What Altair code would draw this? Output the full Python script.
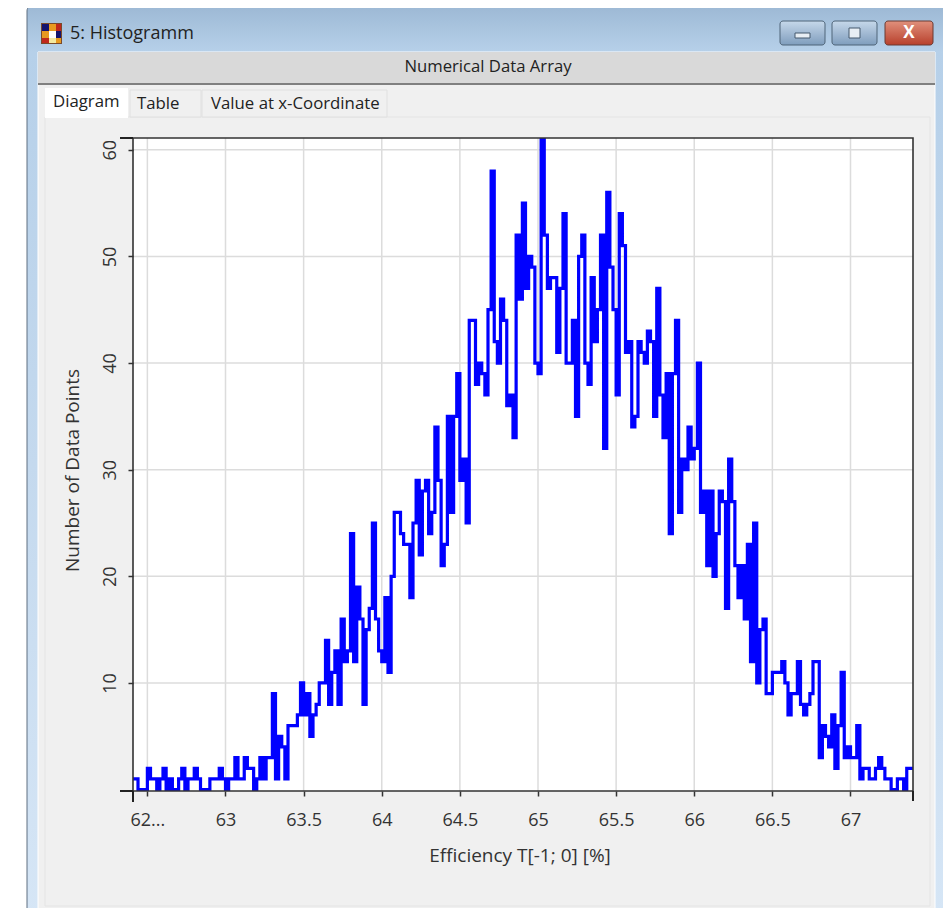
import altair as alt

# Histogram counts per 0.02 wide bin
counts = [
    1,1,0,0,0,2,1,1,0,1,
    2,0,1,0,0,1,2,0,1,1,
    2,1,0,0,0,1,1,1,2,1,
    0,1,1,3,1,1,3,2,2,0,
    1,3,1,3,3,9,1,5,4,1,
    6,6,6,7,10,7,9,5,7,8,
    10,10,14,8,11,13,8,16,12,13,
    24,12,19,16,8,15,17,25,16,13,
    12,18,11,20,26,26,24,23,23,18,
    25,29,22,28,29,24,26,34,29,21,
    23,35,26,35,39,29,31,25,44,44,
    38,40,39,37,45,58,42,40,46,44,
    36,37,33,52,46,55,47,50,49,40,
    39,61,52,47,48,48,41,47,54,40,
    40,44,35,50,52,40,38,48,42,45,
    52,32,56,49,45,37,54,51,41,42,
    34,35,42,41,40,43,42,35,47,37,
    33,39,24,39,44,26,31,30,34,31,
    32,40,26,28,21,28,20,24,28,27,
    17,31,27,21,18,21,16,23,12,25,
    10,15,16,9,9,11,11,11,12,10,
    7,9,9,12,8,7,8,9,12,12,
    3,6,5,4,7,2,6,11,3,4,
    3,3,6,1,2,2,1,1,2,3,
    2,1,1,0,0,1,1,0,2,2,
]
bin_start = 62.40
bin_width = 0.02
x_ticks = [62.5, 63, 63.5, 64, 64.5, 65, 65.5, 66, 66.5, 67]
y_ticks = [10, 20, 30, 40, 50, 60]
x_domain = [62.408, 67.40]
y_domain = [-0.13, 61.1]

PW, PH = 780, 653
OX, OY = 133, 138
FONT = "Open Sans"
edges = [round(bin_start + bin_width * i, 2) for i in range(len(counts) + 1)]
hist = [{"x": e, "y": c} for e, c in zip(edges, counts + [counts[-1]])]


def box(x0, x1, y0, y1, fill, **kw):
    return alt.Chart(alt.Data(values=[{}])).mark_rect(fill=fill, **kw).encode(
        x=alt.value(x0 - OX), x2=alt.value(x1 - OX),
        y=alt.value(y0 - OY), y2=alt.value(y1 - OY))


def label(x, y, text, size=15, align="left", color="#222222", weight="normal"):
    return alt.Chart(alt.Data(values=[{}])).mark_text(
        text=text, fontSize=size, font=FONT, align=align, baseline="middle", color=color, fontWeight=weight
    ).encode(x=alt.value(x - OX), y=alt.value(y - OY))


def vgrad(*cols):
    n = len(cols) - 1
    return alt.Gradient(gradient="linear", x1=0, x2=0, y1=0, y2=1,
                        stops=[alt.GradientStop(color=c, offset=i / n) for i, c in enumerate(cols)])


frame_fill = alt.Gradient(gradient="linear", x1=0, x2=0, y1=0, y2=1, stops=[
    alt.GradientStop(color="#9cb8d4", offset=0),
    alt.GradientStop(color="#b6d0e9", offset=0.05),
    alt.GradientStop(color="#c4d9ee", offset=0.5),
    alt.GradientStop(color="#d6e6f6", offset=1),
])

chrome = [
    box(27, 945, 5, 925, frame_fill, cornerRadius=6, stroke="#5f6f80", strokeWidth=1),
    box(38, 935, 52, 912, "#f0f0f0", stroke="#ffffff", strokeWidth=1),
    box(38, 935, 52, 83, "#d9d9d9"),
    box(38, 935, 83, 85, "#808080"),
    box(45, 930, 117, 906, "#f0f0f0", stroke="#e4e4e4", strokeWidth=1),
    box(45, 128, 88, 118, "#ffffff"),
    box(130, 201, 90, 117, "#f0f0f0", stroke="#e0e0e0", strokeWidth=1),
    box(202, 387, 90, 117, "#f0f0f0", stroke="#e0e0e0", strokeWidth=1),
    # window icon
    box(41, 62, 23, 44, "#7a4a2a"),
    box(42, 49, 24, 31, "#14146e"),
    box(49, 56, 24, 31, "#e89a20"),
    box(56, 61, 24, 31, "#c0281c"),
    box(42, 49, 31, 38, "#e89a20"),
    box(49, 56, 31, 38, "#ffffff"),
    box(56, 61, 31, 38, "#14146e"),
    box(42, 49, 38, 43, "#c0281c"),
    box(49, 56, 38, 43, "#f4e9a0"),
    box(56, 61, 38, 43, "#e89a20"),
    # window buttons
    box(780, 825, 21, 45, vgrad("#c6d8ea", "#7f9dbd"), cornerRadius=3, stroke="#4f6478", strokeWidth=1),
    box(832, 877, 21, 45, vgrad("#c6d8ea", "#7f9dbd"), cornerRadius=3, stroke="#4f6478", strokeWidth=1),
    box(885, 933, 21, 45, vgrad("#e0907c", "#b8402c"), cornerRadius=3, stroke="#6a3a32", strokeWidth=1),
    box(795, 810, 33, 38, "#e8eef4", stroke="#44586c", strokeWidth=1),
    box(849, 860, 28, 38, "#e8eef4", stroke="#44586c", strokeWidth=1),
    label(909, 33, "X", size=17, align="center", color="#ffffff", weight="bold"),
    label(70, 34, "5: Histogramm", size=18),
    label(488, 67, "Numerical Data Array", size=16.7, align="center"),
    label(53, 102, "Diagram", size=16.8),
    label(137, 104, "Table", size=16.8),
    label(211, 104, "Value at x-Coordinate", size=16.8),
    box(OX, OX + PW, OY, OY + PH, "#ffffff"),
]

x_enc = alt.X("x:Q", scale=alt.Scale(domain=x_domain, nice=False, zero=False),
              axis=alt.Axis(values=x_ticks, grid=False, zindex=1, domain=False,
                            tickColor="#333333", tickSize=5, tickWidth=1.5,
                            labelFont=FONT, labelFontSize=18, labelColor="#333333",
                            labelPadding=15, labelFlush=False,
                            labelExpr="datum.value == 62.5 ? '62...' : format(datum.value, '~g')",
                            title="Efficiency T[-1; 0] [%]", titleFont=FONT, titleFontSize=19,
                            titleFontWeight="normal", titleColor="#333333", titlePadding=17,
                            titleX=386.5))
y_enc = alt.Y("y:Q", scale=alt.Scale(domain=y_domain, nice=False, zero=False),
              axis=alt.Axis(values=y_ticks, grid=False, zindex=1, domain=False,
                            tickColor="#333333", tickSize=5, tickWidth=1.5,
                            labelFont=FONT, labelFontSize=18, labelColor="#333333",
                            labelAngle=270, labelAlign="center", labelBaseline="bottom", labelPadding=9,
                            title="Number of Data Points", titleFont=FONT, titleFontSize=19,
                            titleFontWeight="normal", titleColor="#333333", titlePadding=19,
                            titleY=332))

x_grid = alt.Chart(alt.Data(values=[{"x": v} for v in x_ticks])).mark_rule(
    color="#dcdcdc", strokeWidth=1.5, clip=True
).encode(x=alt.X("x:Q"), y=alt.value(0), y2=alt.value(PH))
y_grid = alt.Chart(alt.Data(values=[{"y": v} for v in y_ticks])).mark_rule(
    color="#dcdcdc", strokeWidth=1.5, clip=True
).encode(y=alt.Y("y:Q"), x=alt.value(0), x2=alt.value(PW))

line = alt.Chart(alt.Data(values=hist)).mark_line(
    interpolate="step-after", color="#0000ff", strokeWidth=3.2, clip=True, strokeJoin="miter"
).encode(x=x_enc, y=y_enc)

frame = box(OX, OX + PW, OY, OY + PH, "transparent", stroke="#333333", strokeWidth=1.6)
corner_marks = [
    box(120, 133, 790, 792, "#222222"),
    box(132, 134, 791, 802, "#222222"),
    box(120, 133, 137, 139, "#222222"),
    box(912, 914, 791, 801, "#222222"),
]

chart = alt.layer(*chrome, x_grid, y_grid, line, frame, *corner_marks).properties(
    width=PW, height=PH,
    autosize=alt.AutoSizeParams(type="none"),
    padding={"left": OX - 8, "top": OY - 8, "right": 30, "bottom": 117},
).configure_view(stroke=None)

chart.save("out.html", embed_options={"renderer": "svg", "actions": False})
